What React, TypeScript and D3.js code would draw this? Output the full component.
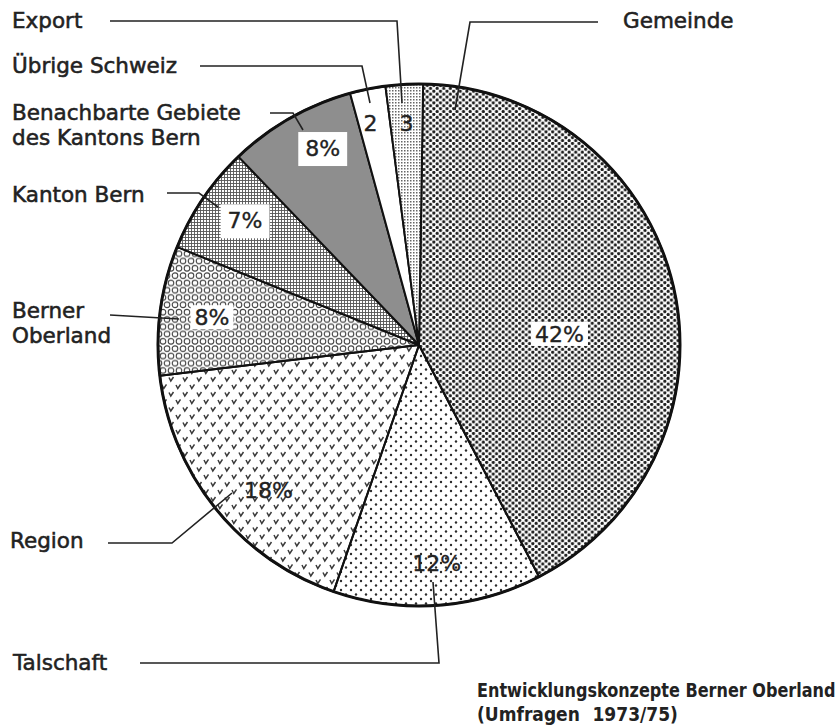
import React from "react";
import * as d3 from "d3";

// ---- data ----
const categories = [
  "Gemeinde",
  "Talschaft",
  "Region",
  "Berner Oberland",
  "Kanton Bern",
  "Benachbarte Gebiete des Kantons Bern",
  "Übrige Schweiz",
  "Export",
];
// printed labels inside the slices
const sliceLabels = ["42%", "12%", "18%", "8%", "7%", "8%", "2", "3"];
// slice sizes as drawn (in % of the circle)
const shares = [42.1, 12.9, 17.8, 8.0, 6.7, 7.9, 2.2, 2.3];
// outside label lines
const outsideLines = [
  ["Gemeinde"],
  ["Talschaft"],
  ["Region"],
  ["Berner", "Oberland"],
  ["Kanton Bern"],
  ["Benachbarte Gebiete", "des Kantons Bern"],
  ["Übrige Schweiz"],
  ["Export"],
];
const footerLine1 = "Entwicklungskonzepte Berner Oberland";
const footerLine2 = ["(Umfragen", "1973/75)"];

// ---- layout / style ----
const W = 840;
const H = 726;
const CX = 419;
const CY = 345;
const R = 261;
const START = (0.9 * Math.PI) / 180;
const FONT = "'DejaVu Sans', sans-serif";

const fills = [
  "url(#pDense)",
  "url(#pSparse)",
  "url(#pV)",
  "url(#pRing)",
  "url(#pGrid)",
  "#8e8e8e",
  "#ffffff",
  "url(#pFine)",
];
const labelRadiusFrac = [0.54, 0.84, 0.8, 0.8, 0.82, 0.84, 0.87, 0.85];
const labelAngleShift = [8.75, -0.5, -5, 0, 1.5, 3.5, -1, 0];
const labelBox = ["halo", "none", "none", "halo", "box", "box", "none", "none"];

// text anchor for outside labels: [x, firstBaseline]
const outsideText: [number, number][] = [
  [623, 28],
  [13, 670],
  [10, 548],
  [12, 318],
  [12, 202],
  [12, 120],
  [12, 73],
  [12, 28],
];
// leader polylines
const leaders: [number, number][][] = [
  [[598, 22], [470, 22], [455, 110]],
  [[140, 663], [439, 663], [433, 582]],
  [[108, 543], [172, 543], [232, 493]],
  [[110, 315], [179, 319]],
  [[167, 193], [199, 193], [218, 207]],
  [[270, 113], [293, 113], [303, 130]],
  [[200, 66], [362, 66], [370, 103]],
  [[110, 21], [397, 21], [402, 103]],
];

const FS = 21.5;
const PFS = 22;

function textWidth(s: string, fs: number) {
  let w = 0;
  for (const ch of s) w += ch === "%" ? 0.95 : 0.636;
  return w * fs;
}

export default function App() {
  const pie = d3
    .pie<number>()
    .sort(null)
    .value((d) => d)
    .startAngle(START)
    .endAngle(START + Math.PI * 2);
  const arcs = pie(shares);
  const arc = d3.arc<d3.PieArcDatum<number>>().innerRadius(0).outerRadius(R);
  const line = d3.line();

  return (
    <svg
      width={W}
      height={H}
      viewBox={`0 0 ${W} ${H}`}
      style={{ position: "absolute", left: 0, top: 0, background: "#fff" }}
    >
      <defs>
        <pattern id="pDense" width="6.6" height="5.8" patternUnits="userSpaceOnUse">
          <circle cx="1.65" cy="1.45" r="1.6" fill="#1e1e1e" />
          <circle cx="4.95" cy="4.35" r="1.6" fill="#1e1e1e" />
        </pattern>
        <pattern id="pSparse" width="10" height="9" patternUnits="userSpaceOnUse">
          <circle cx="2" cy="2" r="1.2" fill="#2a2a2a" />
          <circle cx="7" cy="6.5" r="1.2" fill="#2a2a2a" />
        </pattern>
        <pattern id="pV" width="14" height="15" patternUnits="userSpaceOnUse">
          <path d="M2,2.5 L3.8,6 L6.5,2" fill="none" stroke="#3a3a3a" strokeWidth="1.5" />
          <path d="M9,10 L10.8,13.5 L13.5,9.5" fill="none" stroke="#3a3a3a" strokeWidth="1.5" />
        </pattern>
        <pattern id="pRing" width="8" height="14.6" patternUnits="userSpaceOnUse">
          <circle cx="4" cy="3.65" r="2.8" fill="none" stroke="#444" strokeWidth="1.1" />
          <circle cx="0" cy="10.95" r="2.8" fill="none" stroke="#444" strokeWidth="1.1" />
          <circle cx="8" cy="10.95" r="2.8" fill="none" stroke="#444" strokeWidth="1.1" />
        </pattern>
        <pattern id="pGrid" width="3" height="3" patternUnits="userSpaceOnUse">
          <rect width="3" height="3" fill="#fff" />
          <rect width="3" height="0.9" fill="#555" />
          <rect width="0.9" height="3" fill="#555" />
        </pattern>
        <pattern id="pFine" width="3" height="3" patternUnits="userSpaceOnUse">
          <rect width="3" height="3" fill="#fff" />
          <rect width="1.5" height="1.5" fill="#666" />
        </pattern>
      </defs>

      <g transform={`translate(${CX},${CY})`}>
        {arcs.map((a, i) => (
          <path
            key={categories[i]}
            d={arc(a) || ""}
            fill={fills[i]}
            stroke="#111"
            strokeWidth={2}
            strokeLinejoin="round"
          />
        ))}
        <circle r={R} fill="none" stroke="#111" strokeWidth={3} />
      </g>

      {/* leader lines */}
      {leaders.map((pts, i) => (
        <path
          key={"l" + i}
          d={line(pts) || ""}
          fill="none"
          stroke="#222"
          strokeWidth={1.6}
        />
      ))}

      {/* labels inside slices */}
      {arcs.map((a, i) => {
        const ang = (a.startAngle + a.endAngle) / 2 + (labelAngleShift[i] * Math.PI) / 180;
        const r = R * labelRadiusFrac[i];
        const x = CX + r * Math.sin(ang);
        const y = CY - r * Math.cos(ang);
        const tw = textWidth(sliceLabels[i], PFS);
        const kind = labelBox[i];
        let rect = null;
        if (kind === "halo") {
          rect = (
            <rect x={x - tw / 2 - 4} y={y - 12} width={tw + 8} height={24} fill="#fff" />
          );
        } else if (kind === "box") {
          rect = (
            <rect x={x - tw / 2 - 7} y={y - 16} width={tw + 14} height={34} fill="#fff" />
          );
        }
        return (
          <g key={"s" + i}>
            {rect}
            <text
              x={x}
              y={y}
              dy="0.36em"
              textAnchor="middle"
              fontFamily={FONT}
              fontSize={PFS}
              fill="#222"
              stroke="#222"
              strokeWidth={0.35}
            >
              {sliceLabels[i]}
            </text>
          </g>
        );
      })}

      {/* outside labels */}
      {outsideLines.map((lines, i) => (
        <text
          key={"o" + i}
          x={outsideText[i][0]}
          y={outsideText[i][1]}
          fontFamily={FONT}
          fontSize={FS}
          fill="#222"
          stroke="#222"
          strokeWidth={0.55}
        >
          {lines.map((t, j) => (
            <tspan key={j} x={outsideText[i][0]} dy={j === 0 ? 0 : 24.5}>
              {t}
            </tspan>
          ))}
        </text>
      ))}

      {/* footer (horizontally condensed bold text) */}
      <g transform="translate(477,697) scale(0.845,1)">
        <text x={0} y={0} fontFamily={FONT} fontSize={19} fontWeight="bold" fill="#222">
          {footerLine1}
        </text>
      </g>
      <g transform="translate(477,721) scale(0.9,1)">
        <text x={0} y={0} fontFamily={FONT} fontSize={19} fontWeight="bold" fill="#222">
          <tspan>{footerLine2[0]}</tspan>
          <tspan dx={14}>{footerLine2[1]}</tspan>
        </text>
      </g>
    </svg>
  );
}
